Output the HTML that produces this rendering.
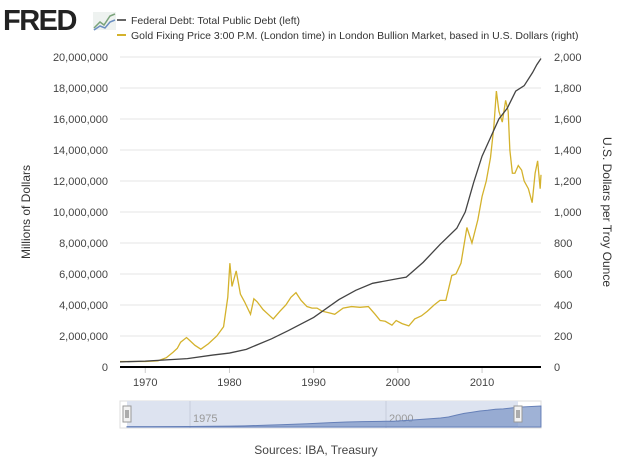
<!DOCTYPE html>
<html><head><meta charset="utf-8">
<style>
body{margin:0;background:#fff;font-family:"Liberation Sans",sans-serif;}
svg{display:block}
text{font-family:"Liberation Sans",sans-serif;}
</style></head>
<body>
<svg id="chart" width="633" height="471">
  <g>
    <text x="3" y="30" font-size="29" font-weight="bold" fill="#222" letter-spacing="-1.5">FRED</text>
    <rect x="93" y="12" width="23" height="18" fill="#eef2f0"/>
    <polyline points="94,28 100,22 104,25 110,16 115,14" fill="none" stroke="#7aa37a" stroke-width="1.5"/>
    <polyline points="94,30 100,26 105,28 110,22 115,20" fill="none" stroke="#6b8fc1" stroke-width="1.5"/>
  </g>
  <g>
    <line x1="117" y1="20" x2="126" y2="20" stroke="#666" stroke-width="2"/>
    <text x="131" y="24" font-size="10.5" fill="#333">Federal Debt: Total Public Debt (left)</text>
    <line x1="117" y1="35" x2="126" y2="35" stroke="#d4b22c" stroke-width="2"/>
    <text x="131" y="39" font-size="10.5" fill="#333">Gold Fixing Price 3:00 P.M. (London time) in London Bullion Market, based in U.S. Dollars (right)</text>
  </g>
  <g id="grid"></g>
  <g id="axes"></g>
  <g id="series"></g>
  <text transform="translate(30,212) rotate(-90)" text-anchor="middle" font-size="12" fill="#333">Millions of Dollars</text>
  <text transform="translate(603,212) rotate(90)" text-anchor="middle" font-size="12" fill="#333">U.S. Dollars per Troy Ounce</text>
  <g id="nav">
    <rect x="120" y="401" width="421" height="27" fill="#fff" stroke="#ddd"/>
    <rect x="127" y="401" width="391" height="27" fill="#dde3f0"/>
    <line x1="190" y1="401" x2="190" y2="428" stroke="#c8cedd"/>
    <line x1="386" y1="401" x2="386" y2="428" stroke="#c8cedd"/>
    <text x="193" y="422" font-size="11" fill="#999">1975</text>
    <text x="389" y="422" font-size="11" fill="#999">2000</text>
  </g>
  <text x="316" y="454" text-anchor="middle" font-size="12" fill="#444">Sources: IBA, Treasury</text>
</svg>
<script>
const debtYears=[1967,1970,1975,1978,1980,1982,1985,1987,1990,1993,1995,1997,2000,2001,2003,2005,2007,2008,2009,2010,2011,2012,2013,2014,2015,2016,2016.5,2017];
const debtValues=[330000,380000,540000,770000,900000,1140000,1820000,2350000,3200000,4350000,4950000,5400000,5700000,5800000,6750000,7900000,8950000,10000000,11900000,13600000,14800000,16000000,16700000,17800000,18150000,19000000,19500000,19900000];
const goldYears=[1967,1970,1971.5,1972.5,1973.3,1973.8,1974.2,1974.9,1975.3,1975.9,1976.6,1977.5,1978.5,1979.3,1979.8,1980.05,1980.3,1980.8,1981.3,1981.8,1982.5,1982.9,1983.3,1984,1984.6,1985.2,1986,1986.7,1987.3,1987.9,1988.5,1989.2,1989.8,1990.4,1991,1991.8,1992.5,1993.5,1994.5,1995.5,1996.5,1997.3,1997.9,1998.5,1999.3,1999.8,2000.5,2001.3,2002,2002.8,2003.5,2004.3,2005,2005.7,2006.4,2006.9,2007.5,2008.2,2008.8,2009.5,2010,2010.5,2011,2011.4,2011.7,2012,2012.4,2012.8,2013.1,2013.3,2013.6,2013.9,2014.3,2014.7,2015,2015.5,2015.95,2016.3,2016.6,2016.9,2017];
const goldValues=[35,36,40,60,95,120,160,190,170,140,115,150,200,260,450,670,520,620,470,420,340,440,420,370,340,310,360,400,450,480,430,390,380,380,360,350,340,380,390,385,390,340,300,295,270,300,280,265,310,330,360,400,430,430,590,600,670,900,800,950,1100,1200,1350,1550,1780,1650,1580,1720,1650,1400,1250,1250,1300,1270,1200,1150,1060,1250,1330,1150,1240];
const leftTicks=[0,2000000,4000000,6000000,8000000,10000000,12000000,14000000,16000000,18000000,20000000];
const rightTicks=[0,200,400,600,800,1000,1200,1400,1600,1800,2000];
const xTicks=[1970,1980,1990,2000,2010];
const X0=120,X1=541,Y0=367,Y1=57;
const xs=y=>X0+(y-1967)/(2017-1967)*(X1-X0);
const yl=v=>Y0-v/20000000*(Y0-Y1);
const yr=v=>Y0-v/2000*(Y0-Y1);
const NS="http://www.w3.org/2000/svg";
function mk(tag,attrs,parent,txt){const e=document.createElementNS(NS,tag);for(const k in attrs)e.setAttribute(k,attrs[k]);if(txt!==undefined)e.textContent=txt;parent.appendChild(e);return e;}
const grid=document.getElementById('grid'),axes=document.getElementById('axes'),series=document.getElementById('series');
leftTicks.forEach((t,i)=>{
  const y=yl(t);
  if(i>0){const g=mk('line',{x1:X0,x2:X1,y1:y,y2:y,stroke:'#e6e6e6'},grid);
  
  }
  const lt=mk('text',{x:108,y:y+4,'text-anchor':'end','font-size':11,fill:'#444'},axes,t.toLocaleString('en-US'));
  
  
});
rightTicks.forEach(t=>{
  const y=yr(t);
  const rt=mk('text',{x:554,y:y+4,'font-size':11,fill:'#444'},axes,t.toLocaleString('en-US'));
  
  
});
xTicks.forEach(t=>{
  const x=xs(t);
  mk('line',{x1:x,x2:x,y1:Y0,y2:Y0+6,stroke:'#ccc'},axes);
  const xt=mk('text',{x:x,y:386,'text-anchor':'middle','font-size':11,fill:'#444'},axes,String(t));
  
  
});
const ax=mk('line',{x1:X0,x2:X1,y1:Y0,y2:Y0,stroke:'#000','stroke-width':2},axes);


const gp=mk('polyline',{points:goldYears.map((y,i)=>xs(y)+','+yr(goldValues[i])).join(' '),fill:'none',stroke:'#d4b22c','stroke-width':1.3},series);


const dp=mk('polyline',{points:debtYears.map((y,i)=>xs(y)+','+yl(debtValues[i])).join(' '),fill:'none',stroke:'#444','stroke-width':1.3},series);


const nav=document.getElementById('nav');
const nx=y=>127+(y-1967)*7.84, ny=v=>427-v/20000000*20;
let pts=debtYears.map((y,i)=>nx(y)+','+ny(debtValues[i]));
pts.push(nx(2019.8)+','+ny(21000000));
const na=mk('polygon',{points:nx(1967)+',427 '+pts.join(' ')+' '+nx(2019.8)+',427',fill:'#7f98c8','fill-opacity':0.75,stroke:'#6680b8'},nav);


[127,518].forEach(x=>{
  const h=mk('rect',{x:x-4,y:406,width:8,height:16,fill:'#f2f2f2',stroke:'#999'},nav);
  
  
  mk('line',{x1:x-1,x2:x-1,y1:410,y2:418,stroke:'#666'},nav);
  mk('line',{x1:x+1,x2:x+1,y1:410,y2:418,stroke:'#666'},nav);
});
</script>
</body></html>
